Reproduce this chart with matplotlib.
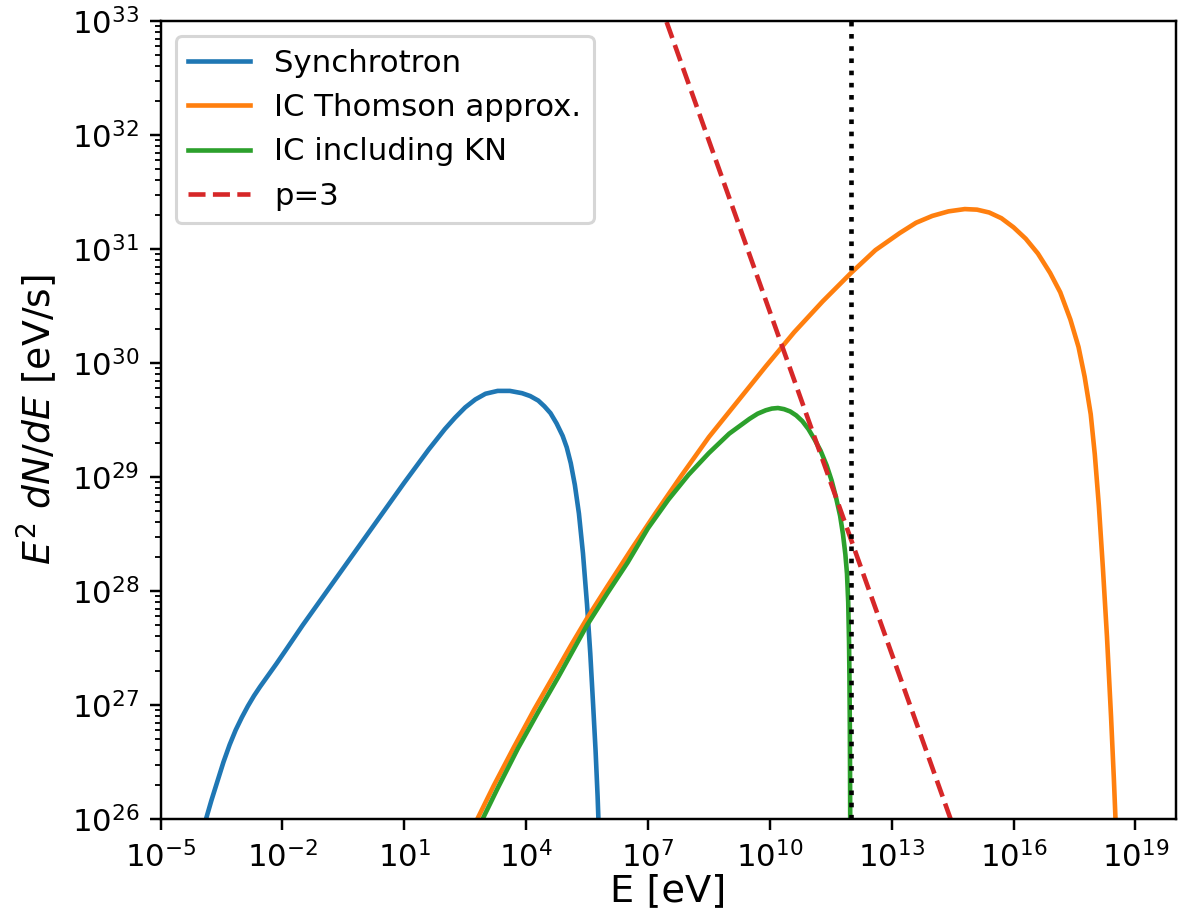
import numpy as np
import matplotlib
matplotlib.use("Agg")
import matplotlib.pyplot as plt

# ---- data (log10 values) ----
sync_logE = [-3.95, -3.88, -3.75, -3.60, -3.45, -3.30, -3.15, -3.00, -2.85, -2.70, -2.55,
             -2.35, -2.15, -1.90, -1.50, -1.00, 0.00, 1.00, 1.60, 2.00, 2.25, 2.50, 2.75,
             3.00, 3.30, 3.60, 3.90, 4.10, 4.30, 4.45, 4.60, 4.75, 4.90, 5.00, 5.10, 5.20,
             5.30, 5.40, 5.50, 5.58, 5.65, 5.71, 5.76, 5.79]
sync_logY = [25.90, 26.00, 26.16, 26.33, 26.50, 26.65, 26.78, 26.89, 26.99, 27.08, 27.16,
             27.26, 27.36, 27.49, 27.70, 27.95, 28.45, 28.95, 29.24, 29.42, 29.52, 29.61, 29.68,
             29.73, 29.755, 29.755, 29.735, 29.71, 29.67, 29.62, 29.56, 29.47, 29.36, 29.26, 29.12, 28.93,
             28.68, 28.33, 27.88, 27.45, 27.00, 26.60, 26.20, 25.90]

thom_logE = [2.75, 2.80, 3.20, 3.70, 4.20, 4.70, 5.10, 5.50, 6.00, 6.60, 7.20, 7.80, 8.50,
             9.20, 9.90, 10.60, 11.30, 12.00, 12.60, 13.20, 13.60, 14.00, 14.40, 14.80, 15.10,
             15.40, 15.70, 16.00, 16.30, 16.60, 16.90, 17.15, 17.40, 17.60, 17.75, 17.90,
             18.00, 18.10, 18.20, 18.30, 18.40, 18.47, 18.51, 18.55]
thom_logY = [25.96, 26.00, 26.29, 26.63, 26.96, 27.27, 27.52, 27.76, 28.04, 28.37, 28.69,
             29.00, 29.35, 29.66, 29.97, 30.27, 30.54, 30.79, 30.99, 31.14, 31.23, 31.29, 31.33,
             31.35, 31.345, 31.32, 31.27, 31.19, 31.09, 30.96, 30.79, 30.62, 30.38, 30.14,
             29.88, 29.55, 29.20, 28.75, 28.20, 27.60, 26.90, 26.35, 26.00, 25.60]

kn_logE = [2.88, 2.93, 3.30, 3.80, 4.30, 4.80, 5.50, 6.00, 6.50, 7.00, 7.50, 8.00, 8.50,
           9.00, 9.50, 9.70, 9.90, 10.05, 10.20, 10.35, 10.50, 10.65, 10.80, 10.95, 11.10,
           11.25, 11.40, 11.52, 11.63, 11.73, 11.80, 11.86, 11.90, 11.93, 11.95, 11.96,
           11.97, 11.975, 11.98]
kn_logY = [25.96, 26.00, 26.27, 26.62, 26.94, 27.25, 27.70, 27.98, 28.25, 28.55, 28.80,
           29.02, 29.21, 29.38, 29.51, 29.555, 29.585, 29.60, 29.605, 29.595, 29.575, 29.54,
           29.49, 29.42, 29.33, 29.23, 29.10, 28.97, 28.82, 28.66, 28.50, 28.32, 28.15,
           27.90, 27.55, 27.25, 26.80, 26.40, 25.90]

p3_logE = [7.0, 15.0]
p3_logY = [33.45, 25.45]

E_max = 1e12

labels = ["Synchrotron", "IC Thomson approx.", "IC including KN", "p=3"]

# ---- figure ----
dpi = 221
fig = plt.figure(figsize=(1183 / dpi, 912 / dpi), dpi=dpi)
ax = fig.add_subplot(111)
fig.subplots_adjust(left=0.1357, right=0.9941, bottom=0.1020, top=0.977)

ax.plot(10 ** np.array(sync_logE), 10 ** np.array(sync_logY), color="C0", label=labels[0])
ax.plot(10 ** np.array(thom_logE), 10 ** np.array(thom_logY), color="C1", label=labels[1])
ax.plot(10 ** np.array(kn_logE), 10 ** np.array(kn_logY), color="C2", label=labels[2])
ax.plot(10 ** np.array(p3_logE), 10 ** np.array(p3_logY), color="C3", linestyle="--", label=labels[3])
ax.axvline(E_max, color="k", linestyle=":")

ax.set_xscale("log")
ax.set_yscale("log")
ax.set_xlim(1e-5, 1e20)
ax.set_ylim(1e26, 1e33)
ax.set_xlabel("E [eV]", fontsize=12.5, labelpad=0)
ax.set_ylabel(r"$E^2\ dN/dE$ [eV/s]", fontsize=12.3)
ax.legend(loc="upper left")

fig.savefig("out.png", dpi=dpi)
